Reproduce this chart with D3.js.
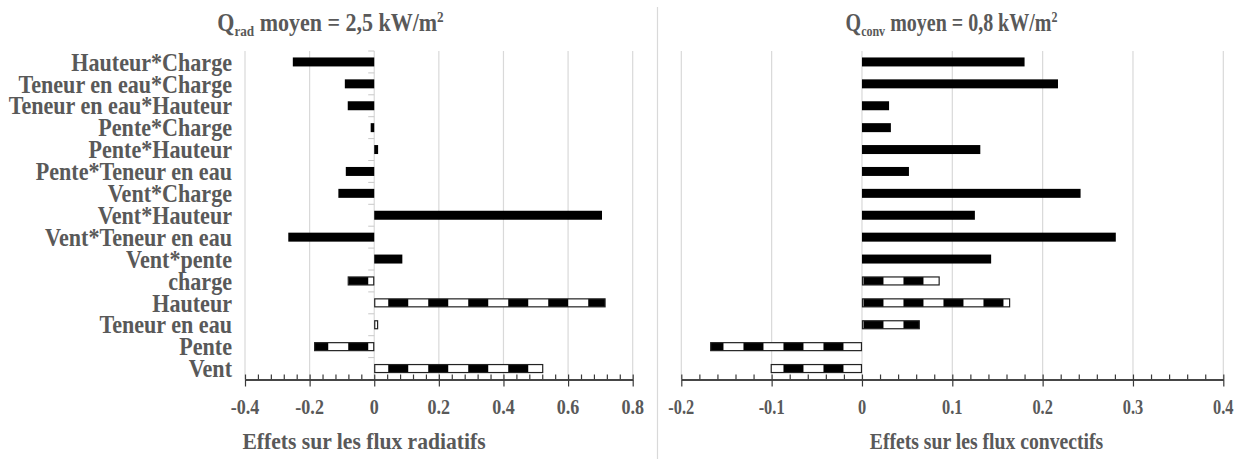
<!DOCTYPE html>
<html>
<head>
<meta charset="utf-8">
<script src="https://cdn.jsdelivr.net/npm/d3@7"></script>
<style>
  html, body { margin: 0; padding: 0; background: #fff; }
  svg { display: block; }
  text { font-family: "Liberation Serif", "Times New Roman", serif; font-weight: bold; fill: #595959; }
</style>
</head>
<body>
<svg id="chart" width="1243" height="459"></svg>
<script>
// ---------- data ----------
const categories = [
  "Hauteur*Charge", "Teneur en eau*Charge", "Teneur en eau*Hauteur", "Pente*Charge",
  "Pente*Hauteur", "Pente*Teneur en eau", "Vent*Charge", "Vent*Hauteur",
  "Vent*Teneur en eau", "Vent*pente", "charge", "Hauteur", "Teneur en eau", "Pente", "Vent"
];
const mainEffects = ["charge", "Hauteur", "Teneur en eau", "Pente", "Vent"];
const radValues  = [-0.252, -0.091, -0.082, -0.011, 0.012, -0.088, -0.111, 0.705,
                    -0.266, 0.087, -0.082, 0.716, 0.012, -0.186, 0.523];
const convValues = [0.180, 0.217, 0.030, 0.032, 0.131, 0.052, 0.242, 0.125,
                    0.281, 0.143, 0.086, 0.164, 0.064, -0.168, -0.101];
const radTicks = [-0.4, -0.2, 0, 0.2, 0.4, 0.6, 0.8];
const radTickLabels = ["-0.4", "-0.2", "0", "0.2", "0.4", "0.6", "0.8"];
const convTicks = [-0.2, -0.1, 0, 0.1, 0.2, 0.3, 0.4];
const convTickLabels = ["-0.2", "-0.1", "0", "0.1", "0.2", "0.3", "0.4"];
const radTitle = { main: "Q", sub: "rad", rest: " moyen = 2,5 kW/m", sup: "2" };
const convTitle = { main: "Q", sub: "conv", rest: " moyen = 0,8 kW/m", sup: "2" };
const radAxisTitle = "Effets sur les flux radiatifs";
const convAxisTitle = "Effets sur les flux convectifs";

// ---------- layout ----------
const svg = d3.select("#chart");
const plotTop = 51, plotBottom = 379.5;
const y = d3.scaleBand().domain(categories).range([plotTop, plotBottom]).paddingInner(0.59).paddingOuter(0.295);
const band = d3.scaleBand().domain(categories).range([plotTop, plotBottom]);

const gridColor = "#d9d9d9";
const axisColor = "#3a3a3a";

// separator between panels
svg.append("line").attr("x1", 657.5).attr("x2", 657.5).attr("y1", 7).attr("y2", 459)
  .attr("stroke", gridColor).attr("stroke-width", 1.2);

const defs = svg.append("defs");

function stext(g, x, yy, str, size, sx, anchor) {
  return g.append("text")
    .attr("transform", `translate(${x},${yy}) scale(${sx},1)`)
    .attr("text-anchor", anchor || "middle")
    .style("font-size", size + "px")
    .text(str);
}

function panel(opts) {
  const x = d3.scaleLinear().domain(opts.domain).range(opts.range);
  const g = svg.append("g");

  // pattern for main effects
  const pid = "pat" + opts.id;
  const p = defs.append("pattern").attr("id", pid)
    .attr("patternUnits", "userSpaceOnUse")
    .attr("x", x(0) + opts.patOffset).attr("y", 0)
    .attr("width", 40).attr("height", 459);
  p.append("rect").attr("width", 40).attr("height", 459).attr("fill", "#fff");
  p.append("rect").attr("width", 20).attr("height", 459).attr("fill", "#000");

  // gridlines
  g.append("g").selectAll("line").data(opts.ticks).join("line")
    .attr("x1", d => x(d)).attr("x2", d => x(d))
    .attr("y1", plotTop).attr("y2", plotBottom)
    .attr("stroke", gridColor).attr("stroke-width", 1.2);

  // category ticks at zero line
  if (opts.catTicks) {
    const bounds = categories.map(c => band(c)).concat([plotBottom]);
    g.append("g").selectAll("line").data(bounds).join("line")
      .attr("x1", x(0) - 6).attr("x2", x(0))
      .attr("y1", d => d).attr("y2", d => d)
      .attr("stroke", "#c8c8c8").attr("stroke-width", 1);
  }

  // bars
  const data = categories.map((c, i) => ({ c, v: opts.values[i], main: mainEffects.includes(c) }));
  g.append("g").selectAll("rect").data(data).join("rect")
    .attr("x", d => Math.min(x(0), x(d.v)) + (d.main ? 0.5 : 0))
    .attr("width", d => Math.abs(x(d.v) - x(0)) - (d.main ? 1 : 0))
    .attr("y", d => y(d.c) + (d.main ? 0.5 : 0))
    .attr("height", d => y.bandwidth() - (d.main ? 1 : 0))
    .attr("fill", d => d.main ? `url(#${pid})` : "#000")
    .attr("stroke", d => d.main ? "#222" : "none")
    .attr("stroke-width", 1.2);

  // minor ticks (upwards) and major ticks (down)
  const step = (opts.ticks[1] - opts.ticks[0]) / 5;
  const minor = d3.range(opts.domain[0], opts.domain[1] + step / 2, step);
  const ax = g.append("g").attr("transform", `translate(0,${plotBottom})`);
  ax.call(d3.axisTop(x).tickValues(minor).tickSize(5).tickSizeOuter(0).tickFormat(""));
  const ax2 = g.append("g").attr("transform", `translate(0,${plotBottom})`);
  ax2.call(d3.axisBottom(x).tickValues(opts.ticks).tickSize(7).tickSizeOuter(0).tickFormat(""));
  g.selectAll(".domain").attr("stroke", axisColor).attr("stroke-width", 1.3);
  g.selectAll(".tick line").attr("stroke", axisColor).attr("stroke-width", 1.2);

  // tick labels
  opts.ticks.forEach((t, i) => stext(g, x(t), 413.5, opts.tickLabels[i], 21, opts.tickSX));

  // axis title
  stext(g, opts.axisTitleX, 449, opts.axisTitle, 24, opts.axisSX);

  // chart title
  const tt = g.append("text")
    .attr("transform", `translate(${opts.titleX},30.5) scale(${opts.titleSX},1)`)
    .attr("text-anchor", "middle").style("font-size", "25px");
  tt.append("tspan").text(opts.title.main);
  tt.append("tspan").attr("dy", 5).style("font-size", "15px").text(opts.title.sub);
  tt.append("tspan").attr("dy", -5).text(opts.title.rest);
  tt.append("tspan").attr("dy", -9).style("font-size", "15px").text(opts.title.sup);

  return { g, x };
}

panel({
  id: "rad", domain: [-0.4, 0.8], range: [245, 632.7], values: radValues,
  ticks: radTicks, tickLabels: radTickLabels, patOffset: 14, catTicks: true,
  axisTitle: radAxisTitle, axisTitleX: 364, title: radTitle, titleX: 330.5,
  tickSX: 0.86, axisSX: 0.9, titleSX: 0.88
});
panel({
  id: "conv", domain: [-0.2, 0.4], range: [681.3, 1223.3], values: convValues,
  ticks: convTicks, tickLabels: convTickLabels, patOffset: 1.5, catTicks: false,
  axisTitle: convAxisTitle, axisTitleX: 986.5, title: convTitle, titleX: 951.5,
  tickSX: 0.78, axisSX: 0.82, titleSX: 0.8
});

// category labels
const lg = svg.append("g");
categories.forEach(c => {
  stext(lg, 232, band(c) + band.bandwidth() / 2 + 8.7, c, 26, 0.85, "end");
});
</script>
</body>
</html>
